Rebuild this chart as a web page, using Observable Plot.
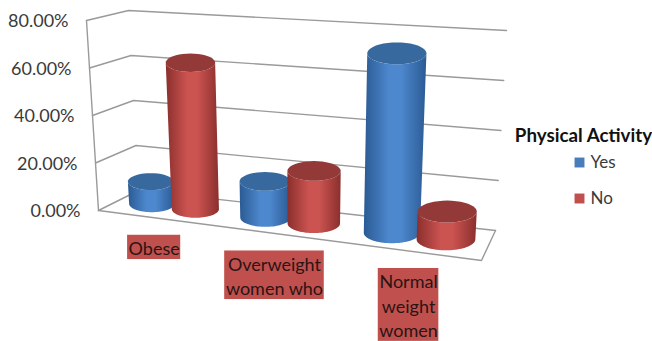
<!DOCTYPE html>
<html>
<head>
<meta charset="utf-8">
<script src="https://cdn.jsdelivr.net/npm/d3@7"></script>
<script src="https://cdn.jsdelivr.net/npm/@observablehq/plot@0.6"></script>
<style>
  html, body { margin: 0; background: #fff; }
  svg { display: block; }
</style>
</head>
<body>
<div id="chart"></div>
<script>
// Share of women reporting physical activity, by body-weight group.
const categories = ["Obese", "Overweight\nwomen who", "Normal\nweight\nwomen"];
const yesValues = [9.5, 15, 72];
const noValues = [62, 21.5, 11];
const axisTicks = [0, 20, 40, 60, 80];
const seriesNames = ["Yes", "No"];

const width = 652, height = 341;
const font = "Lato, 'Noto Sans', sans-serif";

// Corners of the 3D box on the page: u across, d into the page, value up to 80.
const floorBox = {front: [[98, 210], [481, 260]], back: [[138, 190], [495, 230]]};
const roofBox = {front: [[86, 20], [493, 50]], back: [[128, 10], [506, 30]]};
const lerp = (a, b, t) => a + (b - a) * t;
const lerp2 = (a, b, t) => [lerp(a[0], b[0], t), lerp(a[1], b[1], t)];
function project(u, d, value) {
  const low = lerp2(lerp2(floorBox.front[0], floorBox.back[0], d), lerp2(floorBox.front[1], floorBox.back[1], d), u);
  const high = lerp2(lerp2(roofBox.front[0], roofBox.back[0], d), lerp2(roofBox.front[1], roofBox.back[1], d), u);
  return lerp2(low, high, value / 80);
}
// Foreshortening along the category axis.
const k = 0.85;
const foreshorten = t => (t * k) / (1 + (k - 1) * t);

// One cylinder per value: a side wall and a top cap, both closed outlines.
const barSpread = 0.066, barRadius = 0.07, capRatio = 0.37, midDepth = 0.53;
const bars = categories.flatMap((c, i) => [
  {series: "Yes", group: i, value: yesValues[i], offset: -barSpread},
  {series: "No", group: i, value: noValues[i], offset: barSpread}
]);
function ring(bar, value, from, to) {
  const t = (bar.group + 0.5) / 3 + bar.offset;
  const c = project(foreshorten(t), midDepth, value);
  const l = project(foreshorten(t - barRadius), midDepth, value);
  const r = project(foreshorten(t + barRadius), midDepth, value);
  const ax = (r[0] - l[0]) / 2;
  return d3.range(0, 41).map(n => {
    const a = lerp(from, to, n / 40);
    return {x: c[0] + Math.cos(a) * ax, y: c[1] + Math.sin(a) * ax * capRatio};
  });
}
const sideOutline = (bar, id) => [
  ...ring(bar, bar.value, Math.PI, 0),
  ...ring(bar, 0, 0, Math.PI)
].map(p => ({...p, id}));
const capOutline = (bar, id) => ring(bar, bar.value, 0, 2 * Math.PI).map(p => ({...p, id}));

const palette = {
  Yes: {edge: "#2a5a93", mid: "#4d87cd", cap: "#37699f", key: "#4a7ebb"},
  No: {edge: "#8a2f2d", mid: "#cb5350", cap: "#933a38", key: "#c0504d"}
};
const cylinderMarks = bars.flatMap((bar, i) => [
  Plot.line(sideOutline(bar, i), {x: "x", y: "y", curve: "linear-closed", stroke: "none", fill: `url(#side${bar.series})`}),
  Plot.line(capOutline(bar, i), {x: "x", y: "y", curve: "linear-closed", stroke: "none", fill: palette[bar.series].cap})
]);

// Wall and floor rules.
const wallPath = axisTicks.map(v => [project(0, 0, v), project(0, 1, v), project(1, 1, v)]);
const gridData = wallPath.flatMap((pts, i) => pts.map(p => ({x: p[0], y: p[1], id: i})));
const edgeData = [
  ...[project(0, 0, 0), project(0, 0, 80)].map(p => ({x: p[0], y: p[1], id: "wall"})),
  ...[project(0, 0, 0), project(1, 0, 0), project(1, 1, 0)].map(p => ({x: p[0], y: p[1], id: "floor"}))
];

// Value labels sit just left of the front wall edge.
const tickData = axisTicks.map(v => {
  const p = project(0, 0, v);
  return {x: p[0] - 18, y: p[1] + 1, label: v.toFixed(2) + "%"};
});

// Category labels carry a filled box sized to their text.
const measure = document.createElement("canvas").getContext("2d");
const labelSize = 18, lineStep = 24.3;
measure.font = `${labelSize}px Lato`;
const labelData = categories.map((c, i) => {
  const lines = c.split("\n");
  const [fx, fy] = project(foreshorten((i + 0.5) / 3), 0, 0);
  const w = d3.max(lines, s => measure.measureText(s).width) + 2;
  const h = lines.length * lineStep;
  const top = fy + 17.5;
  return {label: c, x: fx, x1: fx - w / 2, x2: fx + w / 2, y1: top, y2: top + h, y: top + h / 2};
});

// Legend block to the right of the box.
const legendLeft = 574, legendTitle = {x: 583, y: 135, label: "Physical Activity"};
const legendData = seriesNames.map((name, i) => ({
  name, x: legendLeft + 5, y: 162 + i * 36, tx: legendLeft + 16
}));

const plot = Plot.plot({
  width, height,
  margin: 0,
  style: {background: "#fff", fontFamily: font},
  x: {domain: [0, width], range: [0, width], axis: null},
  y: {domain: [0, height], range: [0, height], axis: null},
  marks: [
    Plot.line(gridData, {x: "x", y: "y", z: "id", stroke: "#9a9a9a", strokeWidth: 1.4}),
    Plot.line(edgeData, {x: "x", y: "y", z: "id", stroke: "#9a9a9a", strokeWidth: 1.4}),
    ...cylinderMarks,
    Plot.text(tickData, {x: "x", y: "y", text: "label", textAnchor: "end", fontSize: 18, fill: "#3a3a3a"}),
    Plot.rect(labelData, {x1: "x1", x2: "x2", y1: "y1", y2: "y2", fill: "#c0504d"}),
    Plot.text(labelData, {x: "x", y: "y", text: "label", fontSize: labelSize, lineHeight: lineStep / labelSize, fill: "#2b1414"}),
    Plot.text([legendTitle], {x: "x", y: "y", text: "label", fontSize: 18.8, fontWeight: 700, fill: "#111"}),
    Plot.dot(legendData, {x: "x", y: "y", symbol: "square", r: 5.6, fill: d => palette[d.name].key}),
    Plot.text(legendData, {x: "tx", y: "y", text: "name", textAnchor: "start", fontSize: 17, fill: "#3a3a3a"})
  ]
});

// Horizontal shading that gives the cylinder walls their roundness.
const defs = d3.select(plot).insert("defs", ":first-child");
for (const name of seriesNames) {
  const grad = defs.append("linearGradient").attr("id", `side${name}`)
    .attr("x1", 0).attr("x2", 1).attr("y1", 0).attr("y2", 0);
  [[0, palette[name].edge], [0.4, palette[name].mid], [0.6, palette[name].mid], [1, palette[name].edge]]
    .forEach(([o, c]) => grad.append("stop").attr("offset", o).attr("stop-color", c));
}
document.getElementById("chart").append(plot);
</script>
</body>
</html>
